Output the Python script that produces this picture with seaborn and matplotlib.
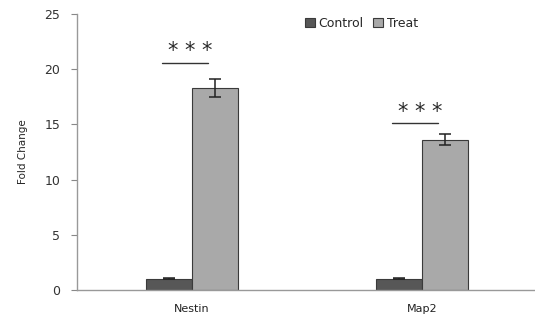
import numpy as np
import pandas as pd
import matplotlib
matplotlib.use('Agg')
import matplotlib.pyplot as plt
import seaborn as sns

# data
genes = ['Nestin', 'Map2']
control_mean = [1.0, 1.0]
treat_mean = [18.3, 13.6]
control_err = [0.05, 0.05]
treat_err = [0.8, 0.5]
sig_line_y = [20.6, 15.1]
sig_labels = ['* * *', '* * *']

df = pd.DataFrame({
    'gene': genes * 2,
    'group': ['Control'] * 2 + ['Treat'] * 2,
    'value': control_mean + treat_mean,
    'err': control_err + treat_err,
})

sns.set_style('white')
plt.rcParams['font.family'] = ['DejaVu Sans']

fig = plt.figure(figsize=(5.35, 3.24), dpi=100)
ax = fig.add_axes([0.144, 0.105, 0.86, 0.852])

palette = {'Control': '#575757', 'Treat': '#a9a9a9'}
sns.barplot(data=df, x='gene', y='value', hue='group', order=genes,
            hue_order=['Control', 'Treat'], palette=palette, width=0.4,
            errorbar=None, saturation=1, edgecolor='#3a3a3a', linewidth=0.8, ax=ax)

# error bars on each bar
for patch_group, grp in zip(ax.containers, ['Control', 'Treat']):
    sub = df[df['group'] == grp].set_index('gene').loc[genes]
    xs = [p.get_x() + p.get_width() / 2 for p in patch_group]
    ax.errorbar(xs, sub['value'], yerr=sub['err'], fmt='none',
                ecolor='#222222', elinewidth=1.1, capsize=4, capthick=1.1)

# significance markers
for i, (y, lab) in enumerate(zip(sig_line_y, sig_labels)):
    ax.plot([i - 0.13, i + 0.07], [y, y], color='#333333', lw=1.0)
    ax.text(i - 0.01, y + 1.0, lab, ha='center', va='center', fontsize=15,
            color='#2a2a2a')

ax.set_xlim(-0.5, 1.5)
ax.set_ylim(0, 25)
ax.set_yticks(range(0, 26, 5))
ax.set_xlabel('')
ax.set_ylabel('Fold Change', fontsize=7.5, labelpad=12)
ax.tick_params(axis='y', labelsize=9, length=4, color='#888888', direction='out',
               left=True, pad=8, labelcolor='#333333')
ax.tick_params(axis='x', labelsize=8, length=0, pad=10, labelcolor='#222222')
sns.despine(ax=ax)
for s in ['left', 'bottom']:
    ax.spines[s].set_color('#999999')
    ax.spines[s].set_linewidth(1.0)

ax.legend(loc='upper left', bbox_to_anchor=(0.47, 1.03), ncol=2, frameon=False,
          fontsize=9, handlelength=0.8, handleheight=0.8, handletextpad=0.3,
          columnspacing=0.8)

fig.savefig('out.png', dpi=100)
